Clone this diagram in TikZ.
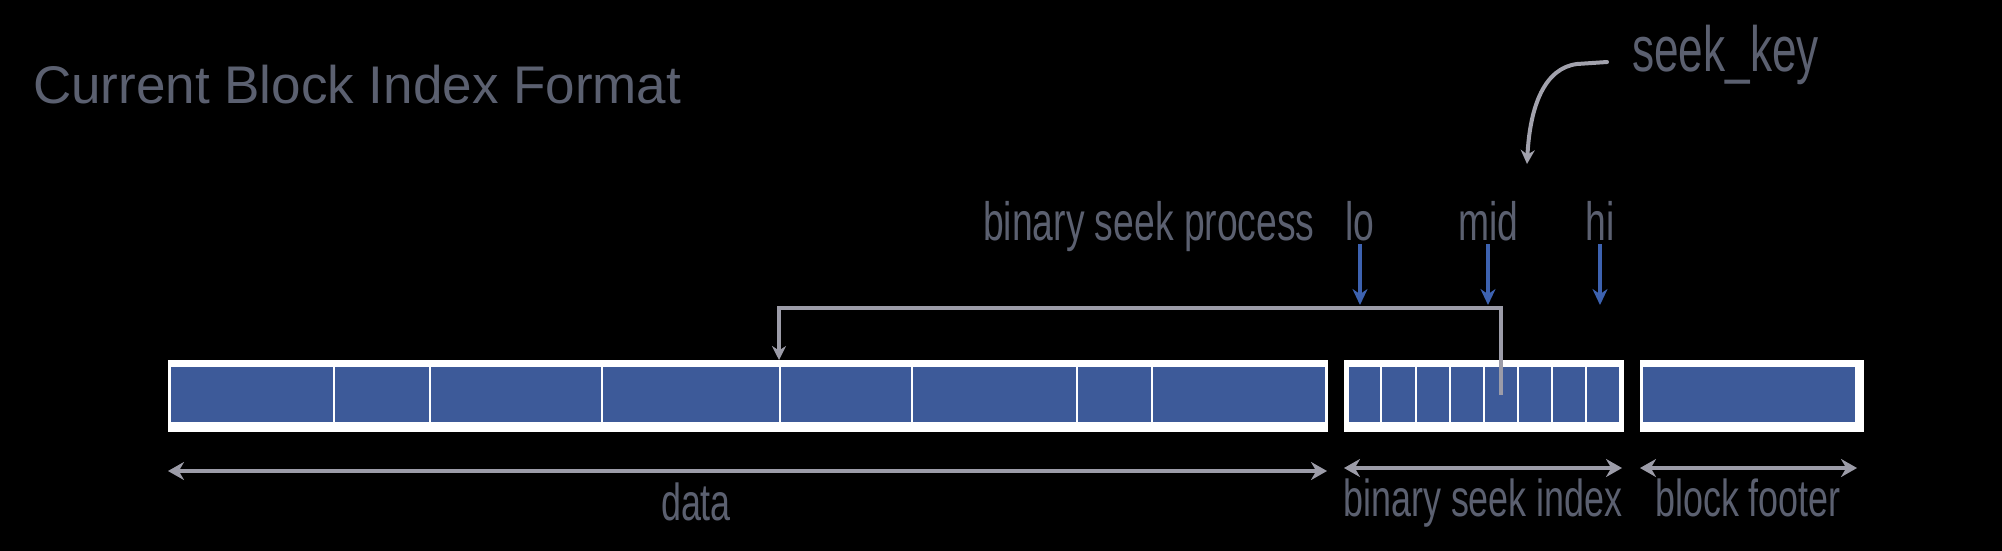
\documentclass[tikz,border=0pt]{standalone}
\usepackage{fontspec}
\setmainfont{Liberation Sans}
\newfontfamily\condfont[FakeStretch=0.69]{Liberation Sans}
\usetikzlibrary{arrows.meta}
\definecolor{txtgray}{HTML}{5B6070}
\definecolor{lngray}{HTML}{9C9CA8}
\definecolor{cvgray}{HTML}{A2A2AD}
\definecolor{cellblue}{HTML}{3D5A99}
\definecolor{arrblue}{HTML}{3D62B0}
\tikzset{
  cell/.style={fill=cellblue, draw=white, line width=2pt, minimum height=57pt, inner sep=0pt, anchor=center},
  wbox/.style={fill=white, draw=none, inner sep=0pt, anchor=north west},
  lbl/.style={text=txtgray, inner sep=0pt, font=\condfont\fontsize{54}{60}\selectfont},
  blbl/.style={text=txtgray, inner sep=0pt, font=\condfont\fontsize{52}{58}\selectfont},
  bluearrow/.style={draw=arrblue, line width=4pt, -{Stealth[length=16pt,width=15pt]}},
  bracket/.style={draw=lngray, line width=4pt, -{Stealth[length=14pt,width=14pt]}},
  dimarrow/.style={draw=lngray, line width=4pt, {Stealth[length=16pt,width=18pt]}-{Stealth[length=16pt,width=18pt]}},
  curvearrow/.style={draw=cvgray, line width=4pt, line cap=round, -{Stealth[length=14pt,width=14pt]}},
}
\begin{document}
\begin{tikzpicture}[x=1pt,y=-1pt]
\useasboundingbox (0,0) rectangle (2002,550);
\fill[black] (-10,-10) rectangle (2012,560);

% title
\node[anchor=base west, inner sep=0pt, text=txtgray, font=\fontsize{53}{60}\selectfont] (title) at (33,103) {Current Block Index Format};

% white boxes
\node[wbox, minimum width=1160pt, minimum height=72pt] (dbox) at (168,360) {};
\node[wbox, minimum width=280pt, minimum height=72pt] (ibox) at (1344,360) {};
\node[wbox, minimum width=224pt, minimum height=72pt] (fbox) at (1640,360) {};

% data cells
\foreach \a/\b/\n in {170/334/d1, 334/430/d2, 430/602/d3, 602/780/d4, 780/911.5/d5, 911.5/1076.5/d6, 1076.5/1152/d7, 1152/1325.5/d8}{
  \pgfmathsetmacro{\w}{\b-\a}
  \pgfmathsetmacro{\c}{(\a+\b)/2}
  \node[cell, minimum width=\w pt] (\n) at (\c,394.5) {};
}
% index cells
\foreach \a/\b/\n in {1347.5/1381/i1, 1381/1415.5/i2, 1415.5/1449.5/i3, 1449.5/1484/i4, 1484/1518/i5, 1518/1552/i6, 1552/1586/i7, 1586/1620/i8}{
  \pgfmathsetmacro{\w}{\b-\a}
  \pgfmathsetmacro{\c}{(\a+\b)/2}
  \node[cell, minimum width=\w pt] (\n) at (\c,394.5) {};
}
% footer cell
\node[cell, minimum width=214pt] (f1) at (1749,394.5) {};

% labels
\node[lbl, anchor=base west] (bsp) at (983,240) {binary seek process};
\node[lbl, anchor=base] (lo) at (1360,240) {lo};
\node[lbl, anchor=base] (mid) at (1488,240) {mid};
\node[lbl, anchor=base] (hi) at (1600,240) {hi};
\node[text=txtgray, inner sep=0pt, font=\condfont\fontsize{64}{70}\selectfont, anchor=base west] (sk) at (1632,71) {seek\_key};

% bracket from mid index cell to data block
\coordinate (brk) at (0,308);
\draw[bracket] (i5.center) |- (d5.north west |- brk) -- (d5.north west |- dbox.north);

% blue pointer arrows
\draw[bluearrow] (lo.base) ++(0,4) -- (lo.base |- 0,305);
\draw[bluearrow] (mid.base) ++(0,4) -- (mid.base |- 0,305);
\draw[bluearrow] (hi.base) ++(0,4) -- (hi.base |- 0,305);

% curved arrow from seek_key
\coordinate (cs) at (1607,62);
\coordinate (ce) at (1527,164);
\draw[curvearrow] (cs) -- (1577,64) .. controls (1545,68) and (1530,105) .. (ce);

% dimension arrows
\coordinate (dl) at (168,471);
\coordinate (dr) at (1327,471);
\coordinate (il) at (1344,468);
\coordinate (ir) at (1622,468);
\coordinate (fl) at (1640,468);
\coordinate (fr) at (1857,468);
\draw[dimarrow] (dl) -- (dr);
\draw[dimarrow] (il) -- (ir);
\draw[dimarrow] (fl) -- (fr);

\node[blbl, anchor=base] (ldata) at (696,520) {data};
\node[blbl, anchor=base] (lidx) at (1483,516) {binary seek index};
\node[blbl, anchor=base] (lfoot) at (1748,516) {block footer};
\end{tikzpicture}
\end{document}
